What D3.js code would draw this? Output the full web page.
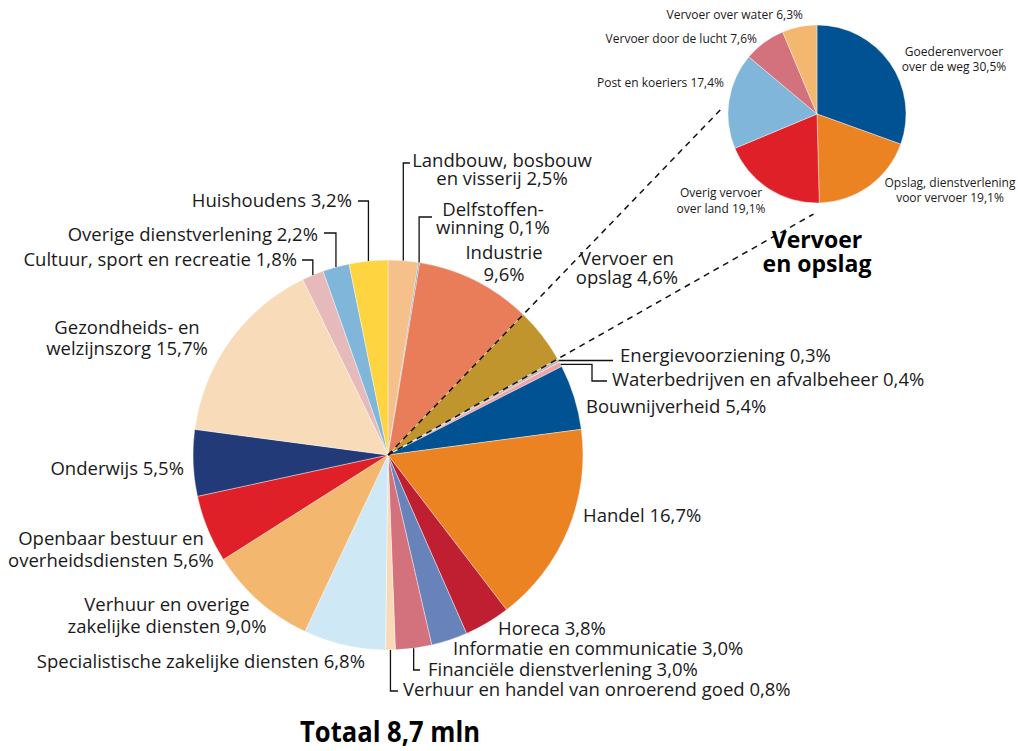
<!DOCTYPE html>
<html>
<head>
<meta charset="utf-8">
<script src="https://cdn.jsdelivr.net/npm/d3@7"></script>
<style>
  html, body { margin: 0; padding: 0; background: #fff; }
  svg { display: block; font-family: 'Open Sans', 'Noto Sans', sans-serif; }
</style>
</head>
<body>
<svg id="chart" width="1018" height="751"></svg>
<script>
// Werkzame personen naar sector — main pie + breakdown of "Vervoer en opslag".

const sectors = [
  'Landbouw, bosbouw en visserij', 'Delfstoffenwinning', 'Industrie',
  'Vervoer en opslag', 'Energievoorziening', 'Waterbedrijven en afvalbeheer',
  'Bouwnijverheid', 'Handel', 'Horeca', 'Informatie en communicatie',
  'Financiële dienstverlening', 'Verhuur en handel van onroerend goed',
  'Specialistische zakelijke diensten', 'Verhuur en overige zakelijke diensten',
  'Openbaar bestuur en overheidsdiensten', 'Onderwijs',
  'Gezondheids- en welzijnszorg', 'Cultuur, sport en recreatie',
  'Overige dienstverlening', 'Huishoudens'
];
const shares = [2.5, 0.1, 9.6, 4.6, 0.3, 0.4, 5.4, 16.7, 3.8, 3.0,
                3.0, 0.8, 6.8, 9.0, 5.6, 5.5, 15.7, 1.8, 2.2, 3.2];
const sectorColors = [
  '#f6c08b', '#4f86b6', '#e97d5a', '#c1952e', '#bdbdbd', '#f2a3a6',
  '#005293', '#ec8323', '#c01f32', '#6783b9', '#d3717c', '#f9d9b6',
  '#cfe8f5', '#f4b76f', '#df2028', '#233a78', '#f8dbb8', '#e6babb',
  '#7fb6d9', '#fed441'
];
// label text per line; the percentage goes after the last line
const sectorLines = [
  ['Landbouw, bosbouw', 'en visserij'], ['Delfstoffen-', 'winning'],
  ['Industrie', ''], ['Vervoer en', 'opslag'], ['Energievoorziening'],
  ['Waterbedrijven en afvalbeheer'], ['Bouwnijverheid'], ['Handel'],
  ['Horeca'], ['Informatie en communicatie'], ['Financiële dienstverlening'],
  ['Verhuur en handel van onroerend goed'],
  ['Specialistische zakelijke diensten'],
  ['Verhuur en overige', 'zakelijke diensten'],
  ['Openbaar bestuur en', 'overheidsdiensten'], ['Onderwijs'],
  ['Gezondheids- en', 'welzijnszorg'], ['Cultuur, sport en recreatie'],
  ['Overige dienstverlening'], ['Huishoudens']
];
const highlighted = 3; // "Vervoer en opslag" is broken down in the small pie

const transportParts = [
  'Goederenvervoer over de weg', 'Opslag, dienstverlening voor vervoer',
  'Overig vervoer over land', 'Post en koeriers',
  'Vervoer door de lucht', 'Vervoer over water'
];
const transportShares = [30.5, 19.1, 19.1, 17.4, 7.6, 6.3];
const transportColors = ['#005293', '#ec8323', '#df2028', '#7fb6d9', '#d3717c', '#f4b76f'];
const transportLines = [
  ['Goederenvervoer', 'over de weg'], ['Opslag, dienstverlening', 'voor vervoer'],
  ['Overig vervoer', 'over land'], ['Post en koeriers'],
  ['Vervoer door de lucht'], ['Vervoer over water']
];

const totalLabel = 'Totaal 8,7 mln';
const detailTitle = ['Vervoer', 'en opslag'];

// ---- layout (hand placed, like the original) ----
const main  = { cx: 388, cy: 455, r: 195 };
const small = { cx: 817, cy: 114, r: 89 };

// anchor, x, baselines
const sectorLabelPos = [
  ['middle', 502, [167, 185]], ['middle', 493, [216, 234]],
  ['middle', 504, [259, 281]], ['middle', 627, [265, 284]],
  ['start', 620, [362]], ['start', 612, [386]], ['start', 586, [413]],
  ['start', 583, [522]], ['start', 498, [635]], ['start', 453, [655]],
  ['start', 428, [676]], ['start', 403, [696]], ['end', 365, [668]],
  ['middle', 167, [611, 633]], ['middle', 111, [545, 567]],
  ['end', 184, [475]], ['middle', 127, [334, 355]], ['end', 297, [266]],
  ['end', 318, [241]], ['end', 352, [207]]
];
// leader elbows; null = take the coordinate from the slice's edge point
const leaders = {
  0:  [[null, 163], [410, 163]],
  1:  [[null, 217], [432, 217]],
  4:  [[613, null]],
  5:  [[592, null], [592, 381], [607, 381]],
  10: [[null, 670], [420, 670]],
  11: [[null, 691], [398, 691]],
  17: [[null, 260], [302, 260]],
  18: [[null, 233], [324, 233]],
  19: [[null, 201], [358, 201]]
};
const transportLabelPos = [
  ['middle', 954, [56, 71]], ['middle', 950, [187, 202]],
  ['middle', 721, [197, 213]], ['end', 724, [87]],
  ['end', 757, [43]], ['end', 803, [19]]
];

const fmt = v => d3.format('.1f')(v).replace('.', ',') + '%';

const svg = d3.select('#chart');

function drawPie(g, values, colors, cfg) {
  const arcs = d3.pie().sort(null).value(d => d)(values);
  const arc = d3.arc().innerRadius(0).outerRadius(cfg.r);
  g.selectAll('path.slice')
    .data(arcs)
    .join('path')
    .attr('class', 'slice')
    .attr('transform', `translate(${cfg.cx},${cfg.cy})`)
    .attr('d', arc)
    .attr('fill', (d, i) => colors[i])
    .attr('stroke', '#fff')
    .attr('stroke-width', 0.4);
  return arcs;
}

function addLabel(g, lines, value, pos, size, weight) {
  const [anchor, x, ys] = pos;
  const t = g.append('text')
    .attr('text-anchor', anchor)
    .style('font-size', size + 'px')
    .style('font-weight', weight || 400)
    .style('fill', '#1a1a1a');
  lines.forEach((line, k) => {
    let s = line;
    if (value != null && k === lines.length - 1) s = line ? line + ' ' + value : value;
    t.append('tspan').attr('x', x).attr('y', ys[k]).text(s);
  });
  return t;
}

// main pie
const mainG = svg.append('g');
const mainArcs = drawPie(mainG, shares, sectorColors, main);

// small pie
const smallG = svg.append('g');
drawPie(smallG, transportShares, transportColors, small);

// dashed connectors along the edges of the highlighted slice
const hl = mainArcs[highlighted];
const connLen = [481, 489];
[hl.startAngle, hl.endAngle].forEach((a, k) => {
  svg.append('line')
    .attr('x1', main.cx).attr('y1', main.cy)
    .attr('x2', main.cx + connLen[k] * Math.sin(a))
    .attr('y2', main.cy - connLen[k] * Math.cos(a))
    .attr('stroke', '#111')
    .attr('stroke-width', 1.5)
    .attr('stroke-dasharray', '6 5');
});

// leader lines
const leaderG = svg.append('g')
  .attr('fill', 'none').attr('stroke', '#111').attr('stroke-width', 1.3);
Object.keys(leaders).forEach(key => {
  const a = mainArcs[key];
  const mid = (a.startAngle + a.endAngle) / 2;
  const px = main.cx + main.r * Math.sin(mid);
  const py = main.cy - main.r * Math.cos(mid);
  const pts = [[px, py]];
  leaders[key].forEach(([x, y]) => pts.push([x == null ? px : x, y == null ? py : y]));
  leaderG.append('path').attr('d', d3.line()(pts));
});

// labels
const labelG = svg.append('g');
sectorLines.forEach((lines, i) => addLabel(labelG, lines, fmt(shares[i]), sectorLabelPos[i], 18.5));
transportLines.forEach((lines, i) => addLabel(labelG, lines, fmt(transportShares[i]), transportLabelPos[i], 12));

addLabel(labelG, detailTitle, null, ['middle', 817, [248, 272]], 23, 700)
  .style('fill', '#000');

labelG.append('text')
  .attr('x', 390).attr('y', 742)
  .attr('text-anchor', 'middle')
  .attr('textLength', 180)
  .attr('lengthAdjust', 'spacingAndGlyphs')
  .style('font-size', '28px')
  .style('font-weight', 700)
  .style('fill', '#000')
  .text(totalLabel);
</script>
</body>
</html>
